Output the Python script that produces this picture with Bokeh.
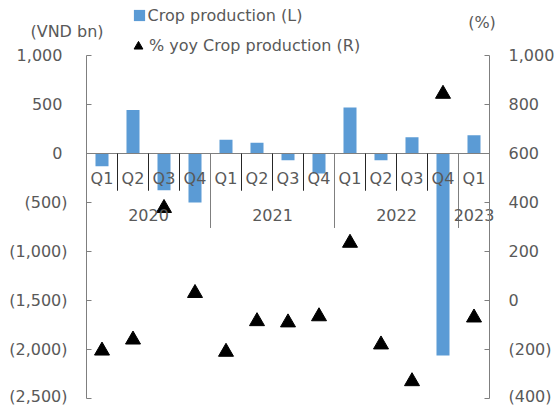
from bokeh.plotting import figure
from bokeh.models import (Range1d, LinearAxis, FixedTicker, CustomJSTickFormatter, Legend,
                          LegendItem, Label, ColumnDataSource, Span)
from bokeh.core.properties import value
from bokeh.embed import file_html
from bokeh.resources import INLINE

# ---- data ----
quarters = ["Q1", "Q2", "Q3", "Q4", "Q1", "Q2", "Q3", "Q4", "Q1", "Q2", "Q3", "Q4", "Q1"]
years = ["2020", "2021", "2022", "2023"]
year_sizes = [4, 4, 4, 1]
crop_production = [-130, 445, -375, -500, 140, 110, -70, -205, 470, -70, 165, -2060, 185]
crop_yoy = [-205, -160, 377, 30, -210, -85, -90, -65, 235, -180, -330, 843, -70]
left_ticks = [-2500, -2000, -1500, -1000, -500, 0, 500, 1000]
right_ticks = [-400, -200, 0, 200, 400, 600, 800, 1000]

FONT = "DejaVu Sans"
GREY = "#595959"
AXIS = "#7f7f7f"
BLUE = "#5B9BD5"

# ---- layout geometry (pixels) ----
W, H = 556, 405
PL, PR, PT, PB = 86, 489, 55, 398      # plot-area edges on the canvas

n = len(quarters)
L_MIN, L_MAX = left_ticks[0], left_ticks[-1]
R_MIN, R_MAX = right_ticks[0], right_ticks[-1]
xpx = (PR - PL) / n
lpx = (PB - PT) / (L_MAX - L_MIN)
rpx = (PB - PT) / (R_MAX - R_MIN)
x_range = Range1d(-PL / xpx, n + (W - PR) / xpx)
y_range = Range1d(L_MIN - (H - PB) / lpx, L_MAX + PT / lpx)
r_range = Range1d(R_MIN - (H - PB) / rpx, R_MAX + PT / rpx)

xs = [i + 0.5 for i in range(n)]
src = ColumnDataSource(dict(x=xs, prod=crop_production, yoy=crop_yoy, q=quarters))

p = figure(width=W, height=H, output_backend="svg", toolbar_location=None,
           x_range=x_range, y_range=y_range,
           x_axis_location=None, y_axis_location=None,
           min_border_left=0, min_border_right=0, min_border_top=0, min_border_bottom=0)
p.extra_y_ranges = {"r": r_range}
p.outline_line_color = None
p.xgrid.visible = False
p.ygrid.visible = False
p.background_fill_color = "white"
p.border_fill_color = "white"

fmt_js = r"""
const a = Math.abs(tick).toFixed(0).replace(/\B(?=(\d{3})+(?!\d))/g, ",");
return tick < 0 ? "(" + a + ")" : a + PAD;
"""

def style_axis(ax, ticks, pad):
    ax.ticker = FixedTicker(ticks=ticks)
    ax.bounds = (ticks[0], ticks[-1])
    ax.formatter = CustomJSTickFormatter(code=fmt_js.replace("PAD", '"\\u00a0"' if pad else '""'))
    ax.axis_line_color = AXIS
    ax.major_tick_line_color = AXIS
    ax.major_tick_in = 5
    ax.major_tick_out = 0
    ax.minor_tick_line_color = None
    ax.major_label_text_font = FONT
    ax.major_label_text_font_size = "16px"
    ax.major_label_text_color = GREY
    ax.major_label_standoff = 19

la = LinearAxis(fixed_location=0)
style_axis(la, left_ticks, True)
p.add_layout(la, "left")
ra = LinearAxis(y_range_name="r", fixed_location=n)
style_axis(ra, right_ticks, False)
p.add_layout(ra, "right")

# bars and markers
bars = p.vbar(x="x", top="prod", bottom=0, width=0.42, source=src,
              fill_color=BLUE, line_color=None)
tri = p.scatter(x="x", y="yoy", marker="triangle", size=15, source=src,
                fill_color="black", line_color="black", y_range_name="r")

# category axis at zero
p.segment(x0=[0], y0=[0], x1=[n], y1=[0], line_color=AXIS, line_width=1)
bounds = [0]
for s in year_sizes:
    bounds.append(bounds[-1] + s)
qsep = [k for k in range(1, n) if k not in bounds]
p.segment(x0=qsep, y0=[0] * len(qsep), x1=qsep, y1=[-380] * len(qsep),
          line_color="#262626", line_width=1)
p.segment(x0=bounds, y0=[0] * len(bounds), x1=bounds, y1=[-760] * len(bounds),
          line_color=AXIS, line_width=1)

p.text(x="x", y=0, text="q", source=src, y_offset=25, text_align="center",
       text_baseline="middle", text_font=value(FONT), text_font_size="16px", text_color=GREY)
ycent = [(bounds[i] + bounds[i + 1]) / 2 for i in range(len(years))]
p.text(x=ycent, y=[0] * len(years), text=years, y_offset=61, text_align="center",
       text_baseline="middle", text_font=value(FONT), text_font_size="16px", text_color=GREY)

# legends (screen px from the canvas bottom-left)
common = dict(padding=0, margin=0, border_line_color=None, background_fill_alpha=0,
              label_text_font=FONT, label_text_font_size="16px", label_text_color=GREY,
              label_height=20)
leg1 = Legend(items=[LegendItem(label="Crop production (L)", renderers=[bars])],
              location=(131.6, 380), glyph_width=14, glyph_height=14, label_standoff=2, **common)
leg2 = Legend(items=[LegendItem(label="% yoy Crop production (R)", renderers=[tri])],
              location=(127, 348.5), glyph_width=22, glyph_height=22, label_standoff=0, **common)
p.add_layout(leg1)
p.add_layout(leg2)

# axis titles
for txt, x, y in [("(VND bn)", 66.5, 374), ("(%)", 481.5, 383)]:
    p.add_layout(Label(x=x, y=y, x_units="screen", y_units="screen", text=txt,
                       text_align="center", text_baseline="middle", text_font=FONT,
                       text_font_size="16px", text_color=GREY))

open("out.html", "w").write(file_html(p, INLINE))
